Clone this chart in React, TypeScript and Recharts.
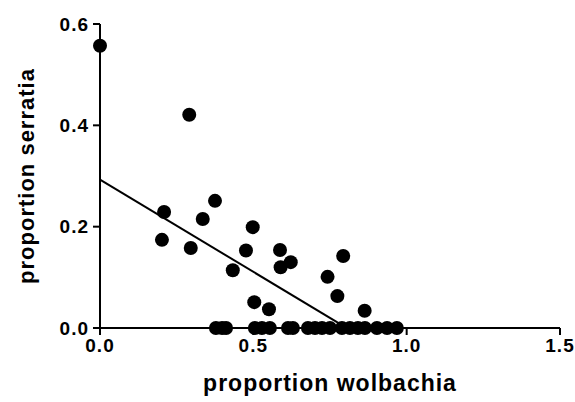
import {
  ScatterChart,
  Scatter,
  XAxis,
  YAxis,
} from "recharts";

// measured points (proportion wolbachia, proportion serratia)
const wolbachia = [
  0, 0.291, 0.209, 0.202, 0.296, 0.335, 0.375, 0.433, 0.476, 0.498, 0.503,
  0.551, 0.587, 0.589, 0.622, 0.742, 0.793, 0.774, 0.863,
  0.378, 0.398, 0.411, 0.505, 0.528, 0.554, 0.613, 0.629, 0.678, 0.701,
  0.724, 0.75, 0.789, 0.815, 0.841, 0.864, 0.903, 0.936, 0.968,
];
const serratia = [
  0.557, 0.421, 0.229, 0.174, 0.158, 0.215, 0.251, 0.114, 0.153, 0.199, 0.051,
  0.037, 0.154, 0.12, 0.13, 0.101, 0.142, 0.063, 0.034,
  0, 0, 0, 0, 0, 0, 0, 0, 0, 0,
  0, 0, 0, 0, 0, 0, 0, 0, 0,
];

// fitted line ends
const fitX = [0, 0.785];
const fitY = [0.293, 0.007];

const xTicks = [0, 0.5, 1.0, 1.5];
const yTicks = [0, 0.2, 0.4, 0.6];

const points = wolbachia.map((x, i) => ({ x, y: serratia[i] }));
const fit = fitX.map((x, i) => ({ x, y: fitY[i] }));

const font = "Arial, 'Liberation Sans', sans-serif";
const tickStyle = { fill: "#000", fontSize: 19, fontWeight: 700, fontFamily: font, letterSpacing: 1 };
const titleStyle = { fill: "#000", fontSize: 23, fontWeight: 700, fontFamily: font, letterSpacing: 1 };

const Dot = (props: any) => <circle cx={props.cx} cy={props.cy} r={7} fill="#000" />;

function App() {
  return (
    <div style={{ position: "absolute", left: 0, top: 0, background: "#fff" }}>
      <ScatterChart
        width={575}
        height={402}
        margin={{ top: 24, right: 15, bottom: 0, left: 30 }}
      >
        <XAxis
          type="number"
          dataKey="x"
          domain={[0, 1.5]}
          ticks={xTicks}
          tickFormatter={(v: number) => v.toFixed(1)}
          height={74}
          stroke="#000"
          strokeWidth={2}
          tickSize={7}
          tickMargin={4}
          tick={tickStyle}
          label={{
            value: "proportion wolbachia",
            position: "insideBottom",
            offset: 11,
            style: titleStyle,
          }}
        />
        <YAxis
          type="number"
          dataKey="y"
          domain={[0, 0.6]}
          ticks={yTicks}
          tickFormatter={(v: number) => v.toFixed(1)}
          width={70}
          stroke="#000"
          strokeWidth={2}
          tickSize={7}
          tickMargin={4}
          tick={tickStyle}
          label={{
            value: "proportion serratia",
            angle: -90,
            position: "insideLeft",
            offset: -4,
            style: { ...titleStyle, fontSize: 22, textAnchor: "middle" },
          }}
        />
        <Scatter data={points} shape={Dot} isAnimationActive={false} />
        <Scatter
          data={fit}
          line={{ stroke: "#000", strokeWidth: 2 }}
          shape={() => <g />}
          isAnimationActive={false}
        />
      </ScatterChart>
    </div>
  );
}

export default App;
